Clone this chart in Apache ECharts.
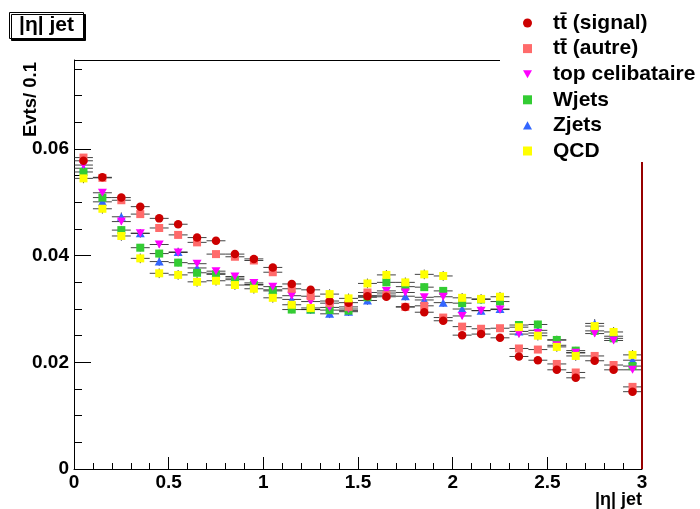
<!DOCTYPE html>
<html><head><meta charset="utf-8">
<script src="https://cdn.jsdelivr.net/npm/echarts@6/dist/echarts.min.js"></script>
<style>html,body{margin:0;padding:0;background:#fff}#c{width:700px;height:509px}</style>
</head><body><div id="c"></div>
<script>
// ---- data ----
const binCenters = [0.05,0.15,0.25,0.35,0.45,0.55,0.65,0.75,0.85,0.95,1.05,1.15,1.25,1.35,1.45,1.55,1.65,1.75,1.85,1.95,2.05,2.15,2.25,2.35,2.45,2.55,2.65,2.75,2.85,2.95];
const binHalfWidth = 0.05;
const ttSignal = [0.0578,0.0547,0.0509,0.0492,0.0470,0.0459,0.0434,0.0428,0.0403,0.0394,0.0378,0.0347,0.0336,0.0315,0.0312,0.0324,0.0323,0.0304,0.0294,0.0278,0.0251,0.0253,0.0246,0.0211,0.0204,0.0186,0.0171,0.0203,0.0186,0.0145];
const ttAutre = [0.0584,0.0546,0.0504,0.0478,0.0452,0.0439,0.0425,0.0403,0.0398,0.0391,0.0369,0.0338,0.0324,0.0311,0.0304,0.0331,0.0326,0.0304,0.0306,0.0284,0.0267,0.0263,0.0264,0.0226,0.0224,0.0197,0.0181,0.0212,0.0195,0.0154];
const topCelibataire = [0.0570,0.0518,0.0464,0.0442,0.0421,0.0406,0.0385,0.0371,0.0361,0.0349,0.0342,0.0325,0.0314,0.0303,0.0300,0.0325,0.0334,0.0331,0.0322,0.0323,0.0287,0.0297,0.0299,0.0253,0.0255,0.0232,0.0218,0.0254,0.0241,0.0186];
const wJets = [0.0557,0.0509,0.0448,0.0415,0.0404,0.0387,0.0368,0.0365,0.0355,0.0345,0.0334,0.0299,0.0299,0.0298,0.0297,0.0322,0.0350,0.0342,0.0341,0.0334,0.0311,0.0318,0.0314,0.0270,0.0271,0.0242,0.0222,0.0259,0.0245,0.0193];
const zJets = [0.0564,0.0501,0.0473,0.0442,0.0389,0.0407,0.0377,0.0367,0.0358,0.0346,0.0336,0.0318,0.0299,0.0291,0.0295,0.0316,0.0330,0.0324,0.0317,0.0312,0.0300,0.0297,0.0300,0.0258,0.0260,0.0242,0.0218,0.0273,0.0249,0.0204];
const qcd = [0.0545,0.0488,0.0437,0.0395,0.0367,0.0364,0.0351,0.0353,0.0345,0.0338,0.0321,0.0308,0.0302,0.0328,0.0320,0.0348,0.0364,0.0350,0.0365,0.0362,0.0321,0.0319,0.0323,0.0266,0.0250,0.0229,0.0212,0.0268,0.0257,0.0214];
const seriesNames = ['tt\u0304 (signal)', 'tt\u0304 (autre)', 'top celibataire', 'Wjets', 'Zjets', 'QCD'];
const yErrors = [0.0006, 0.0006, 0.0006, 0.0007, 0.0008, 0.0009];
const xTickLabels = ['0','0.5','1','1.5','2','2.5','3'];
const yTickLabels = ['0','0.02','0.04','0.06'];
const xMin = 0, xMax = 3, xMajor = 0.5;
const yMin = 0, yMax = 0.0767, yMajor = 0.02, yMinor = 0.005;
const titleText = '|\u03b7| jet';
const yAxisTitle = 'Evts/ 0.1';
const xAxisTitle = '|\u03b7| jet';

// ---- style / layout ----
const W = 700, H = 509;
const G = {left: 74, top: 60, right: 58, bottom: 40};
const FONT = '"Liberation Sans", Arial, Helvetica, sans-serif';
const styles = [
  {color: '#cc0000', symbol: 'circle', size: 8.5, z: 5},
  {color: '#ff6b6b', symbol: 'rect', size: 8, z: 4},
  {color: '#ff00ff', symbol: 'path://M0,0 L10,0 L5,9 Z', size: [9, 8], z: 3},
  {color: '#33cc33', symbol: 'rect', size: 8, z: 2},
  {color: '#3366ff', symbol: 'path://M5,0 L10,9 L0,9 Z', size: [9, 8], z: 1},
  {color: '#ffff00', symbol: 'rect', size: 8, z: 6}
];
const allValues = [ttSignal, ttAutre, topCelibataire, wJets, zJets, qcd];

const chart = echarts.init(document.getElementById('c'), null, {renderer: 'canvas', width: W, height: H});

const errData = [];
allValues.forEach((vals, s) => {
  vals.forEach((v, i) => errData.push([binCenters[i], v, yErrors[s]]));
});

const series = [{
  type: 'custom',
  name: 'errors',
  coordinateSystem: 'cartesian2d',
  z: 1,
  silent: true,
  data: errData,
  encode: {x: 0, y: 1},
  renderItem: function (params, api) {
    const x = api.value(0), y = api.value(1), e = api.value(2);
    const p0 = api.coord([x - binHalfWidth, y]);
    const p1 = api.coord([x + binHalfWidth, y]);
    const q0 = api.coord([x, y - e]);
    const q1 = api.coord([x, y + e]);
    const st = {stroke: '#222', lineWidth: 1, opacity: 0.85};
    return {type: 'group', children: [
      {type: 'line', shape: {x1: p0[0], y1: p0[1], x2: p1[0], y2: p1[1]}, style: st},
      {type: 'line', shape: {x1: q0[0], y1: q0[1], x2: q1[0], y2: q1[1]}, style: st}
    ]};
  }
}];
allValues.forEach((vals, s) => {
  series.push({
    type: 'scatter',
    name: seriesNames[s],
    symbol: styles[s].symbol,
    symbolSize: styles[s].size,
    z: 10 + styles[s].z,
    itemStyle: {color: styles[s].color, opacity: 1},
    emphasis: {disabled: true},
    data: vals.map((v, i) => [binCenters[i], v])
  });
});

const option = {
  animation: false,
  backgroundColor: '#fff',
  title: {
    text: titleText,
    left: 9, top: 12,
    padding: [2, 10, 2, 10],
    borderWidth: 1, borderColor: '#000',
    backgroundColor: '#fff',
    shadowColor: '#000', shadowOffsetX: 2, shadowOffsetY: 2, shadowBlur: 0,
    textStyle: {fontFamily: FONT, fontWeight: 'bold', fontSize: 21, color: '#000', lineHeight: 23}
  },
  legend: {
    orient: 'vertical',
    left: 523, top: 12.5,
    padding: 0,
    itemWidth: 9, itemHeight: 9,
    itemGap: 4.6,
    selectedMode: false,
    data: seriesNames,
    textStyle: {fontFamily: FONT, fontWeight: 'bold', fontSize: 21, color: '#000', lineHeight: 21, padding: [0, 0, 0, 16]}
  },
  grid: {left: G.left, top: G.top, right: G.right, bottom: G.bottom, containLabel: false},
  xAxis: {
    type: 'value', min: xMin, max: xMax, interval: xMajor,
    axisLine: {show: true, lineStyle: {color: '#000', width: 1}},
    axisTick: {show: true, inside: true, length: 12, lineStyle: {color: '#000'}},
    minorTick: {show: true, splitNumber: 5, length: 6, lineStyle: {color: '#000'}},
    splitLine: {show: false},
    axisLabel: {
      margin: 4, color: '#000', fontFamily: FONT, fontWeight: 'bold', fontSize: 19,
      formatter: function (v) { const i = Math.round(v / xMajor); return xTickLabels[i] !== undefined ? xTickLabels[i] : ''; }
    }
  },
  yAxis: [{
    type: 'value', min: yMin, max: yMax, interval: yMajor,
    axisLine: {show: true, lineStyle: {color: '#000', width: 1}},
    axisTick: {show: true, inside: true, length: 17, lineStyle: {color: '#000'}},
    splitLine: {show: false},
    axisLabel: {
      margin: 5, color: '#000', fontFamily: FONT, fontWeight: 'bold', fontSize: 19, showMaxLabel: false,
      formatter: function (v) { const i = Math.round(v / yMajor); return (Math.abs(v - i * yMajor) < 1e-9 && yTickLabels[i] !== undefined) ? yTickLabels[i] : ''; }
    }
  }, {
    type: 'value', min: yMin, max: yMax, interval: yMinor, position: 'left',
    axisLine: {show: false},
    axisTick: {show: true, inside: true, length: 8, lineStyle: {color: '#000'}},
    splitLine: {show: false},
    axisLabel: {show: false}
  }],
  graphic: [
    {type: 'line', silent: true, z: 50, shape: {x1: G.left, y1: G.top + 0.5, x2: 500, y2: G.top + 0.5}, style: {stroke: '#000', lineWidth: 1}},
    {type: 'line', silent: true, z: 50, shape: {x1: W - G.right, y1: 162, x2: W - G.right, y2: H - G.bottom}, style: {stroke: '#c00000', lineWidth: 2}},
    {type: 'line', silent: true, z: 51, shape: {x1: W - G.right, y1: 162, x2: W - G.right, y2: H - G.bottom}, style: {stroke: '#300', lineWidth: 0.6}},
    {type: 'text', silent: true, x: 31, y: 62, rotation: Math.PI / 2,
      style: {text: yAxisTitle, font: 'bold 18.5px ' + FONT, fill: '#000', textAlign: 'right', textVerticalAlign: 'middle'}},
    {type: 'text', silent: true, x: W - G.right, y: 500,
      style: {text: xAxisTitle, font: 'bold 18px ' + FONT, fill: '#000', textAlign: 'right', textVerticalAlign: 'middle'}}
  ],
  series: series
};
chart.setOption(option);
</script>
</body></html>
